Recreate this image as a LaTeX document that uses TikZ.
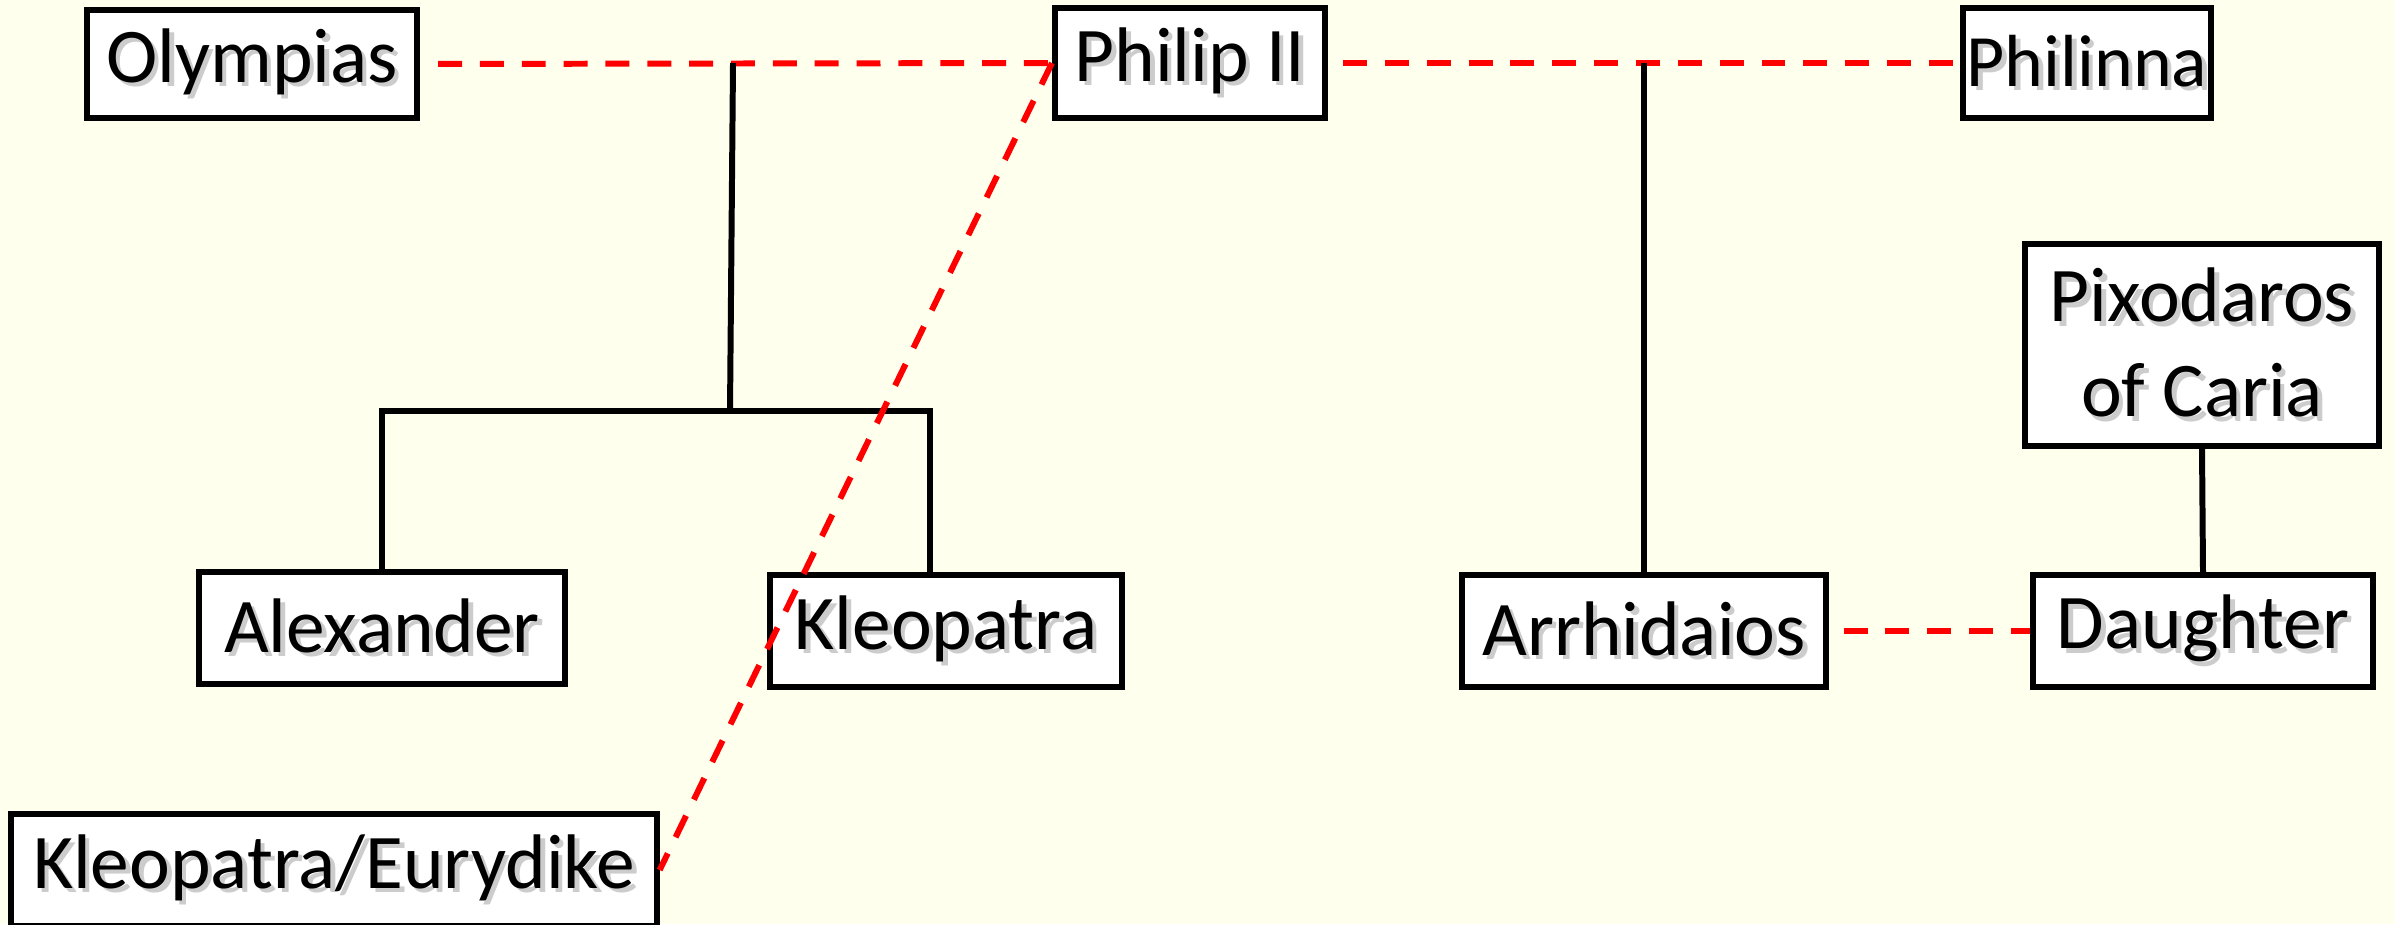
\documentclass[tikz,border=0pt]{standalone}
\usepackage{fontspec}
\setmainfont{Carlito}
\usepackage{xcolor}
\definecolor{bgcream}{RGB}{255,255,238}
\definecolor{wedred}{RGB}{255,0,0}
\newcommand{\shadowed}[1]{\leavevmode\rlap{\kern1.3pt\raisebox{-1.3pt}{\textcolor{black!20}{#1}}}#1}

\begin{document}
\begin{tikzpicture}[x=0.01cm,y=-0.01cm,
    person/.style={draw,fill=white,line width=1.7pt,rectangle,inner sep=0pt,
      font=\fontsize{22}{27}\selectfont,align=center},
    wed/.style={draw=wedred,line width=1.7pt,dash pattern=on 6.8pt off 5.1pt},
    kin/.style={draw=black,line width=1.7pt}]
  \fill[bgcream] (0,0) rectangle (2394,924);
  \useasboundingbox (0,0) rectangle (2394,924);
  \node[person,minimum width=3.30cm,minimum height=1.07cm] (olympias) at (252,64) {\shadowed{Olympias}};
  \node[person,minimum width=2.70cm,minimum height=1.10cm] (philip) at (1190,63) {\shadowed{Philip II}};
  \node[person,minimum width=2.48cm,minimum height=1.10cm,font=\fontsize{21}{25}\selectfont] (philinna) at (2087,63) {\shadowed{Philinna}};
  \node[person,minimum width=3.53cm,minimum height=2.02cm] (pixodaros) at (2202,345) {\shadowed{Pixodaros}\\\shadowed{of Caria}};
  \node[person,minimum width=3.65cm,minimum height=1.11cm] (alexander) at (382,628) {\shadowed{Alexander}};
  \node[person,minimum width=3.51cm,minimum height=1.11cm] (kleopatra) at (946,631) {\shadowed{Kleopatra}};
  \node[person,minimum width=3.63cm,minimum height=1.11cm] (arrhidaios) at (1644,631) {\shadowed{Arrhidaios}};
  \node[person,minimum width=3.39cm,minimum height=1.11cm] (daughter) at (2203,631) {\shadowed{Daughter}};
  \node[person,minimum width=6.45cm,minimum height=1.11cm] (eurydike) at (334,870) {\shadowed{Kleopatra/Eurydike}};
  \coordinate (olph) at (733,63);
  \coordinate (sib) at (730,411);
  \coordinate (kl) at (930,411);
  \coordinate (phph) at (arrhidaios.north |- philip.east);
  \draw[wed,shorten <=0.18cm] (olympias.east) -- (philip.west);
  \draw[wed,shorten <=0.15cm] (philip.east) -- (philinna.west);
  \draw[wed,shorten <=0.15cm] (arrhidaios.east) -- (daughter.west);
  \draw[kin] (olph) -- (sib);
  \draw[kin] (alexander.north) |- (sib) -- (kl) -- (kl |- kleopatra.north);
  \draw[kin] (phph) -- (arrhidaios.north);
  \draw[kin] (pixodaros.south) -- (daughter.north);
  \draw[wed] (philip.west) -- (eurydike.east);
\end{tikzpicture}
\end{document}
